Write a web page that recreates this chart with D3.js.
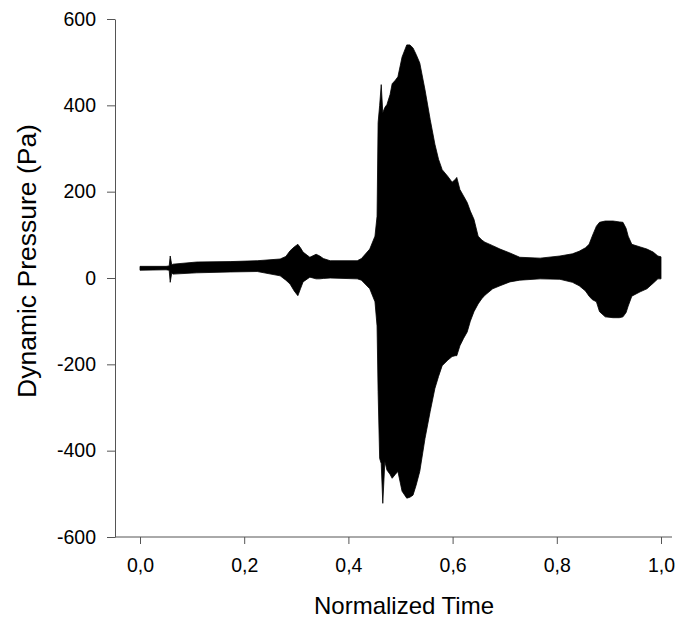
<!DOCTYPE html>
<html lang="en">
<head>
<meta charset="UTF-8">
<title>Dynamic Pressure</title>
<style>
  body { margin: 0; background: #fff; }
  svg { display: block; font-family: Arial, "Liberation Sans", sans-serif; }
</style>
</head>
<body>
<svg id="chart"></svg>
<script src="https://d3js.org/d3.v7.min.js"></script>
<script>
// envelope of the pressure signal
const timeVals = [
  0.000, 0.050, 0.056, 0.058, 0.061, 0.063, 0.109, 0.173, 0.225, 0.269,
  0.280, 0.288, 0.296, 0.303, 0.308, 0.313, 0.326, 0.338, 0.345, 0.352, 0.365,
  0.417, 0.425, 0.441, 0.451, 0.455, 0.457, 0.460, 0.463, 0.466, 0.470,
  0.474, 0.480, 0.484, 0.490, 0.495, 0.503, 0.512, 0.518, 0.524, 0.530,
  0.537, 0.547, 0.557, 0.566, 0.573, 0.580, 0.591, 0.599, 0.605, 0.608,
  0.614, 0.621, 0.628, 0.634, 0.641, 0.649, 0.656, 0.662, 0.677, 0.691,
  0.710, 0.729, 0.768, 0.806, 0.830, 0.843, 0.855, 0.862, 0.868, 0.876,
  0.882, 0.893, 0.908, 0.920, 0.927, 0.933, 0.937, 0.944, 0.960, 0.973,
  0.985, 0.994, 1.000
];
const upperVals = [
  27, 27, 28, 51, 30, 32, 37, 38, 40, 44,
  50, 63, 72, 78, 70, 60, 48, 55, 51, 45, 40,
  40, 45, 67, 97, 143, 360, 400, 448, 383, 395,
  402, 425, 450, 458, 466, 512, 540, 540, 533, 518,
  498, 436, 367, 310, 275, 251, 235, 222, 228, 233,
  205, 190, 175, 155, 136, 97, 88, 83, 75, 67,
  58, 48, 46, 51, 56, 62, 70, 78, 97, 120,
  129, 132, 132, 130, 129, 115, 97, 78, 72, 67,
  60, 51, 49
];
const lowerVals = [
  18, 19, 18, -10, 12, 9, 12, 14, 15, 5,
  -5, -14, -30, -41, -25, -9, 2, -2, -2, -1, 0,
  -2, -5, -25, -55, -111, -263, -418, -430, -522, -425,
  -445, -455, -464, -455, -448, -494, -510, -508, -503, -480,
  -448, -372, -309, -256, -228, -203, -190, -182, -180, -180,
  -157, -140, -125, -100, -78, -60, -48, -40, -25, -18,
  -9, -5, -2, -3, -10, -18, -30, -42, -50, -55,
  -78, -90, -92, -92, -90, -80, -65, -42, -32, -25,
  -12, -2, -2
];
const xTicks = [0, 0.2, 0.4, 0.6, 0.8, 1.0];
const yTicks = [-600, -400, -200, 0, 200, 400, 600];

const width = 678, height = 621;
const axisColor = "#555";

const svg = d3.select("#chart").attr("width", width).attr("height", height);

const x = d3.scaleLinear().domain([0, 1]).range([140, 661]);
const y = d3.scaleLinear().domain([-600, 600]).range([537, 19]);

const signal = timeVals.map((t, i) => ({ t: t, hi: upperVals[i], lo: lowerVals[i] }));

svg.append("path")
  .datum(signal)
  .attr("fill", "#000")
  .attr("stroke", "#000")
  .attr("stroke-width", 0.8)
  .attr("d", d3.area()
    .x(d => x(d.t))
    .y0(d => y(d.lo))
    .y1(d => y(d.hi)));

// y axis
const yAxis = svg.append("g")
  .attr("transform", "translate(115,0)")
  .call(d3.axisLeft(y).tickValues(yTicks).tickSize(8).tickSizeOuter(0).tickPadding(11)
    .tickFormat(d => String(d)));
yAxis.select(".domain").attr("stroke", axisColor);
yAxis.selectAll(".tick line").attr("stroke", axisColor);
yAxis.selectAll(".tick text").attr("fill", "#000").style("font-size", "19.5px");

// x axis, line runs from the y axis to the right edge
const xAxis = svg.append("g")
  .attr("transform", "translate(0,537)")
  .call(d3.axisBottom(x).tickValues(xTicks).tickSize(7).tickSizeOuter(0).tickPadding(14)
    .tickFormat(d => d3.format(".1f")(d).replace(".", ",")));
xAxis.select(".domain").remove();
xAxis.append("line")
  .attr("x1", 115).attr("x2", 672)
  .attr("stroke", axisColor);
xAxis.selectAll(".tick line").attr("stroke", axisColor);
xAxis.selectAll(".tick text").attr("fill", "#000").style("font-size", "19.5px");

svg.append("text")
  .attr("x", 404).attr("y", 614)
  .attr("text-anchor", "middle")
  .style("font-size", "24px")
  .text("Normalized Time");

svg.append("text")
  .attr("transform", "translate(36,261) rotate(-90)")
  .attr("text-anchor", "middle")
  .style("font-size", "26.5px")
  .text("Dynamic Pressure (Pa)");
</script>
</body>
</html>
